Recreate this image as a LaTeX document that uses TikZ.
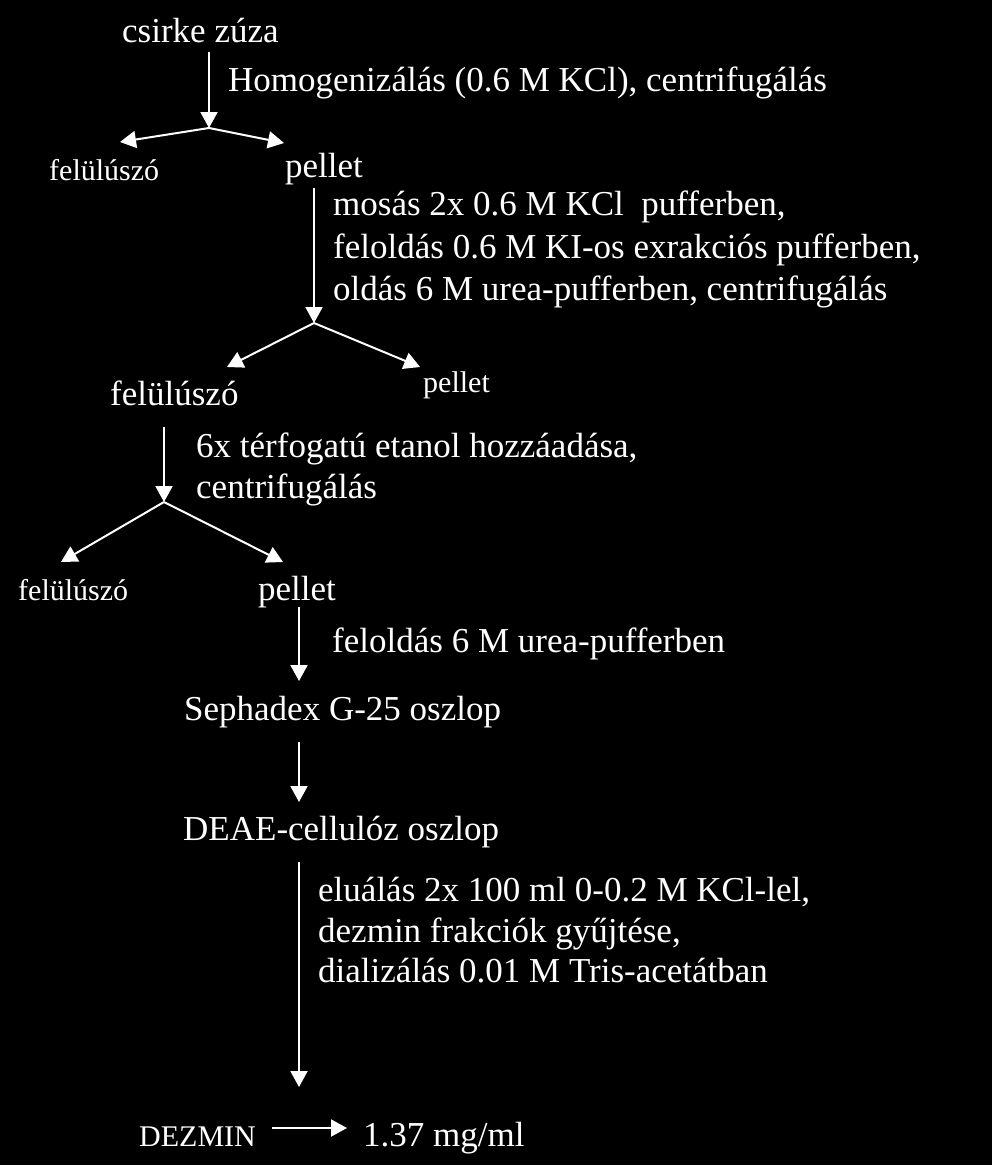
\documentclass[tikz,border=0pt]{standalone}
\usepackage{fontspec}
\setmainfont{Liberation Serif}
\usetikzlibrary{arrows.meta}
\newcommand{\bigtxt}{\fontsize{35}{42}\selectfont}
\newcommand{\smalltxt}{\fontsize{30}{36}\selectfont}
\tikzset{
  lbl/.style={anchor=base west, inner sep=0pt, text=white, font=\bigtxt},
  slbl/.style={anchor=base west, inner sep=0pt, text=white, font=\smalltxt},
  flow/.style={draw=white, line width=2pt, -{Triangle[width=17pt,length=16pt]}},
}
\begin{document}
\begin{tikzpicture}[x=1pt,y=-1pt]
\fill[black] (0,0) rectangle (992,1165);
\useasboundingbox (0,0) rectangle (992,1165);
% step 1
\node[lbl] (start) at (122,42) {csirke zúza};
\node[lbl] (t1) at (228,91) {Homogenizálás (0.6 M KCl), centrifugálás};
\coordinate (a1s) at (209,52);
\coordinate (b1) at (209,128);
\coordinate (b1l) at (120,142);
\coordinate (b1r) at (284,143);
\node[slbl] (sup1) at (49,180) {felülúszó};
\node[lbl] (pel1) at (285,177) {pellet};
\draw[flow] (a1s) -- (b1);
\draw[flow] (b1) -- (b1l);
\draw[flow] (b1) -- (b1r);
% step 2
\coordinate (a2s) at (314,188);
\coordinate (b2) at (314,323);
\coordinate (b2l) at (227,367);
\coordinate (b2r) at (420,367);
\node[lbl] (t2a) at (333,215) {mosás 2x 0.6 M KCl\ \ pufferben,};
\node[lbl] (t2b) at (333,258) {feloldás 0.6 M KI-os exrakciós pufferben,};
\node[lbl] (t2c) at (333,300) {oldás 6 M urea-pufferben, centrifugálás};
\node[lbl] (sup2) at (110,405) {felülúszó};
\node[slbl] (pel2) at (423,392) {pellet};
\draw[flow] (a2s) -- (b2);
\draw[flow] (b2) -- (b2l);
\draw[flow] (b2) -- (b2r);
% step 3
\coordinate (a3s) at (164,427);
\coordinate (b3) at (164,502);
\coordinate (b3l) at (61,562);
\coordinate (b3r) at (283,562);
\node[lbl] (t3a) at (196,457) {6x térfogatú etanol hozzáadása,};
\node[lbl] (t3b) at (196,498) {centrifugálás};
\node[slbl] (sup3) at (18,600) {felülúszó};
\node[lbl] (pel3) at (258,600) {pellet};
\draw[flow] (a3s) -- (b3);
\draw[flow] (b3) -- (b3l);
\draw[flow] (b3) -- (b3r);
% step 4
\coordinate (a4s) at (299,607);
\coordinate (a4e) at (299,681);
\node[lbl] (t4) at (332,652) {feloldás 6 M urea-pufferben};
\node[lbl] (seph) at (184,720) {Sephadex G-25 oszlop};
\draw[flow] (a4s) -- (a4e);
% step 5
\coordinate (a5s) at (299,742);
\coordinate (a5e) at (299,802);
\node[lbl] (deae) at (183,840) {DEAE-cellulóz oszlop};
\draw[flow] (a5s) -- (a5e);
% step 6
\coordinate (a6s) at (299,862);
\coordinate (a6e) at (299,1087);
\node[lbl] (t6a) at (318,901) {eluálás 2x 100 ml 0-0.2 M KCl-lel,};
\node[lbl] (t6b) at (318,942) {dezmin frakciók gyűjtése,};
\node[lbl] (t6c) at (318,982) {dializálás 0.01 M Tris-acetátban};
\draw[flow] (a6s) -- (a6e);
% result
\node[slbl] (dez) at (139,1146) {DEZMIN};
\node[lbl] (conc) at (363,1146) {1.37 mg/ml};
\coordinate (a7s) at (272,1128);
\coordinate (a7e) at (347,1128);
\draw[flow] (a7s) -- (a7e);
\end{tikzpicture}
\end{document}
